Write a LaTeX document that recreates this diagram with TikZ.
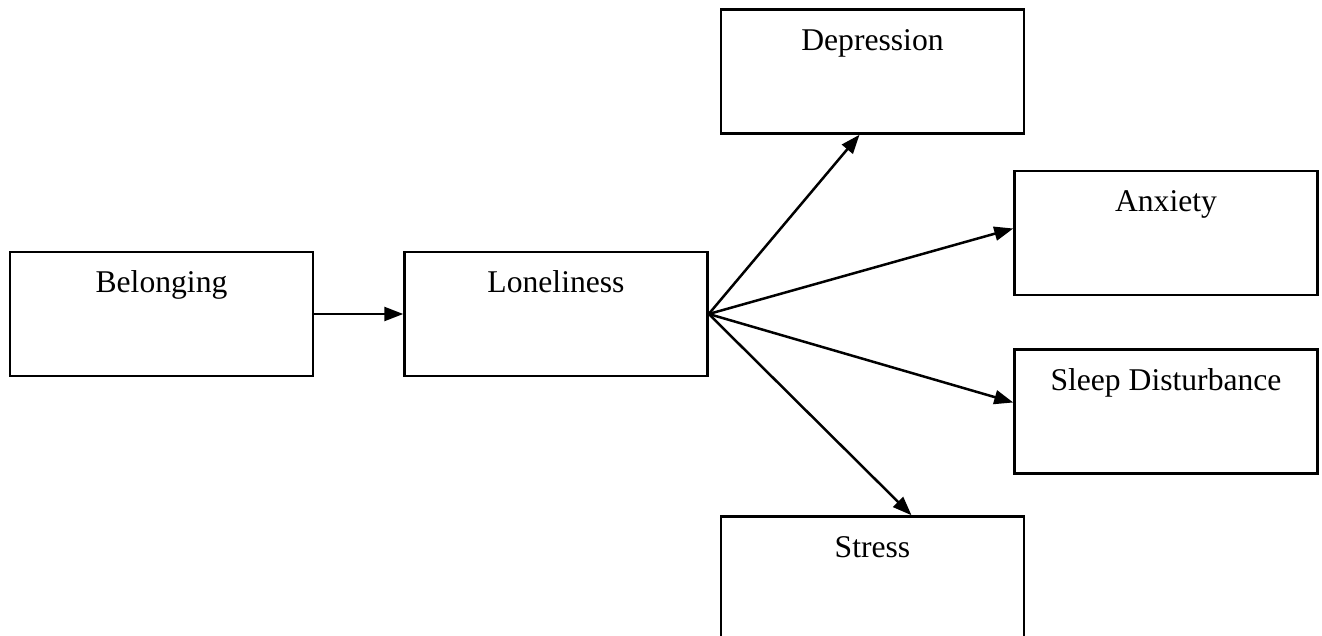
\documentclass[tikz,border=0pt]{standalone}
\usepackage{fontspec}
\setmainfont{Liberation Serif}
\usetikzlibrary{arrows.meta,positioning}

\begin{document}
\begin{tikzpicture}[
  node distance=1.78cm,
  box/.style={rectangle, draw, line width=0.05cm, minimum width=6.06cm, inner sep=0pt,
    text height=0.82cm, text depth=1.66cm, font=\fontsize{18}{21.6}\selectfont},
  arrow/.style={-{Triangle[length=0.38cm, width=0.28cm]}, line width=0.05cm}
]
  \useasboundingbox (0,0) rectangle (26.44,12.7);

  \node[box] (belonging) at (3.23,6.42) {Belonging};
  \node[box, right=of belonging] (loneliness) {Loneliness};

  \node[box, above right=2.32cm and 0.22cm of loneliness] (depression) {Depression};
  \node[box, below right=0.7cm and -0.24cm of depression] (anxiety) {Anxiety};
  \node[box, below=1.04cm of anxiety] (sleep) {Sleep Disturbance};
  \node[box, below right=2.76cm and 0.22cm of loneliness] (stress) {Stress};

  \draw[arrow] (belonging) -- (loneliness);
  \draw[arrow] (loneliness.east) -- ([xshift=-0.26cm]depression.south);
  \draw[arrow] (loneliness.east) -- ([yshift=0.09cm]anxiety.west);
  \draw[arrow] (loneliness.east) -- ([yshift=0.18cm]sleep.west);
  \draw[arrow] (loneliness.east) -- ([xshift=0.78cm]stress.north);
\end{tikzpicture}
\end{document}
